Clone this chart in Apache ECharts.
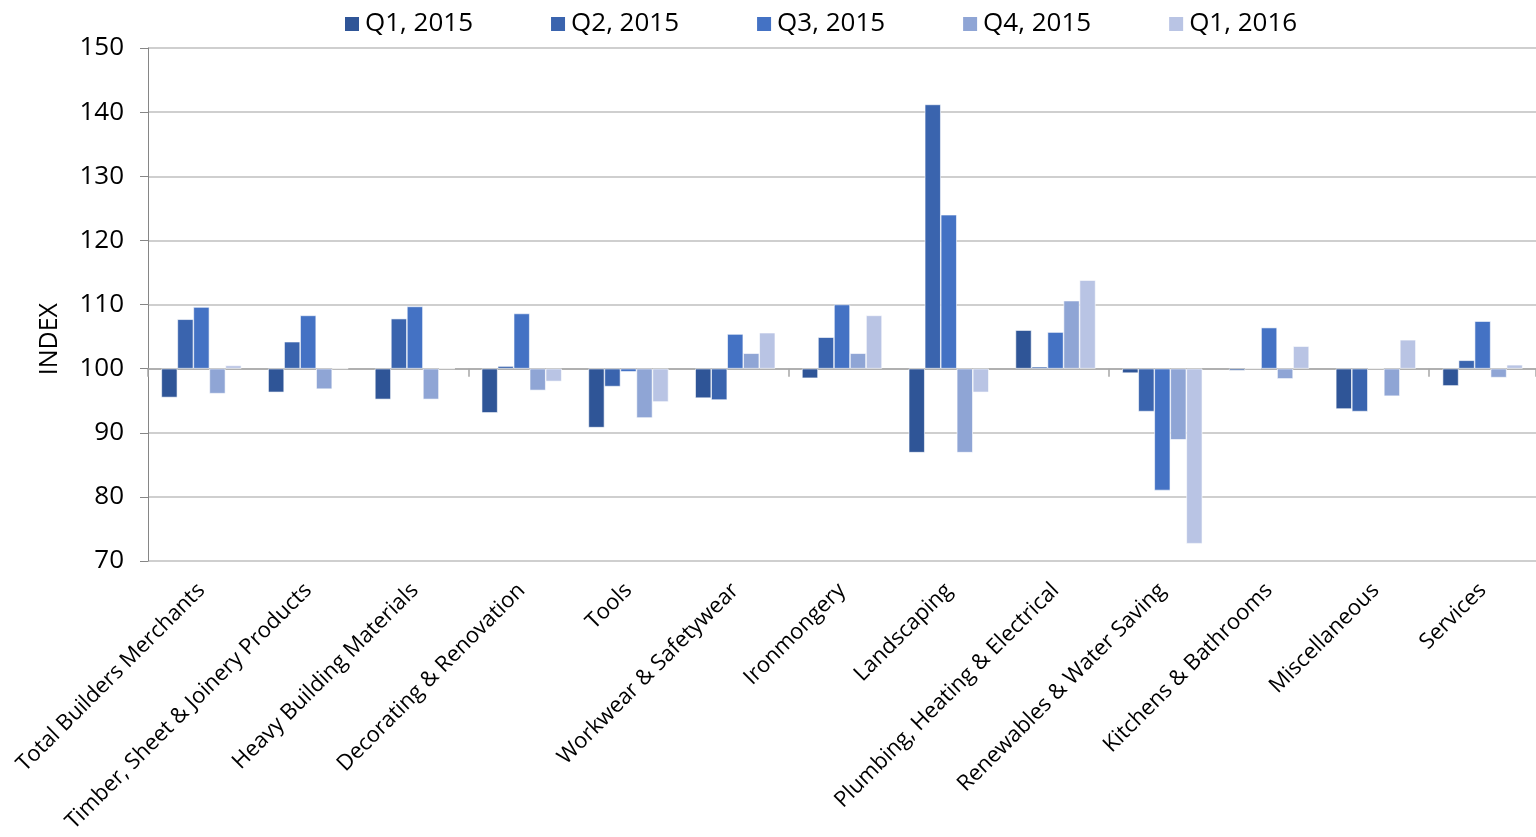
<!DOCTYPE html>
<html>
<head>
<meta charset="utf-8">
<script src="https://cdn.jsdelivr.net/npm/echarts@6/dist/echarts.min.js"></script>
<style>
  html, body { margin: 0; padding: 0; background: #fff; }
  #chart { width: 1536px; height: 837px; }
</style>
</head>
<body>
<div id="chart"></div>
<script>
const categories = [
  'Total Builders Merchants', 'Timber, Sheet & Joinery Products', 'Heavy Building Materials',
  'Decorating & Renovation', 'Tools', 'Workwear & Safetywear', 'Ironmongery', 'Landscaping',
  'Plumbing, Heating & Electrical', 'Renewables & Water Saving', 'Kitchens & Bathrooms',
  'Miscellaneous', 'Services'
]
const seriesNames = ['Q1, 2015', 'Q2, 2015', 'Q3, 2015', 'Q4, 2015', 'Q1, 2016']
const q1_2015 = [95.5, 96.3, 95.2, 93.1, 90.8, 95.4, 98.5, 86.9, 106.0, 99.3, 99.7, 93.7, 97.3]
const q2_2015 = [107.7, 104.2, 107.8, 100.4, 97.2, 95.1, 104.9, 141.2, 100.3, 93.3, 100.0, 93.3, 101.3]
const q3_2015 = [109.6, 108.3, 109.7, 108.6, 99.5, 105.4, 110.0, 124.0, 105.7, 81.0, 106.4, 100.0, 107.4]
const q4_2015 = [96.1, 96.8, 95.2, 96.6, 92.3, 102.4, 102.4, 86.9, 110.6, 88.9, 98.4, 95.7, 98.6]
const q1_2016 = [100.5, 100.0, 100.0, 98.0, 94.8, 105.6, 108.3, 96.3, 113.8, 72.7, 103.5, 104.5, 100.6]
const colors = ['#2F5597', '#3A64AE', '#4472C4', '#8FA5D5', '#B9C4E4']

// bars hang from the 100 line, so plot the offset from 100
const BASE = 100
const allSeries = [q1_2015, q2_2015, q3_2015, q4_2015, q1_2016]

const chart = echarts.init(document.getElementById('chart'))
const font = 'Open Sans'

const option = {
  color: colors,
  animation: false,
  legend: {
    top: 6,
    left: 338,
    itemWidth: 16,
    itemHeight: 16,
    itemGap: 76,
    icon: 'rect',
    textStyle: { fontFamily: font, fontSize: 26, color: '#000' },
    data: seriesNames
  },
  grid: { left: 148, right: 0, top: 48, bottom: 276 },
  xAxis: [
    {
      type: 'category',
      data: categories,
      position: 'bottom',
      axisLine: { show: false, onZero: false },
      axisTick: { show: false },
      axisLabel: {
        rotate: 45,
        interval: 0,
        margin: 26,
        fontFamily: font,
        fontSize: 22,
        color: '#000'
      }
    },
    {
      type: 'category',
      data: categories,
      position: 'bottom',
      axisLine: { show: true, onZero: true, lineStyle: { color: '#A6A6A6', width: 1.5 } },
      axisTick: { show: true, inside: false, length: 8, lineStyle: { color: '#A6A6A6', width: 1.5 } },
      axisLabel: { show: false }
    }
  ],
  yAxis: {
    type: 'value',
    min: -30,
    max: 50,
    interval: 10,
    axisLine: { show: true, lineStyle: { color: '#868686', width: 1 } },
    axisTick: { show: true, length: 8, lineStyle: { color: '#868686' } },
    splitLine: { lineStyle: { color: '#BFBFBF', width: 1.5 } },
    axisLabel: {
      fontFamily: font,
      fontSize: 26,
      color: '#000',
      margin: 24,
      formatter: v => String(v + BASE)
    }
  },
  graphic: [
    {
      type: 'text',
      left: 37,
      top: 303,
      rotation: Math.PI / 2,
      style: { text: 'INDEX', fontFamily: font, fontSize: 25, fill: '#000' }
    }
  ],
  series: allSeries.map((vals, i) => ({
    name: seriesNames[i],
    type: 'bar',
    xAxisIndex: 0,
    barGap: '0%',
    barCategoryGap: '25%',
    itemStyle: { color: colors[i], borderColor: '#fff', borderWidth: 0.6 },
    data: vals.map(v => +(v - BASE).toFixed(2))
  }))
}

chart.setOption(option)
</script>
</body>
</html>
